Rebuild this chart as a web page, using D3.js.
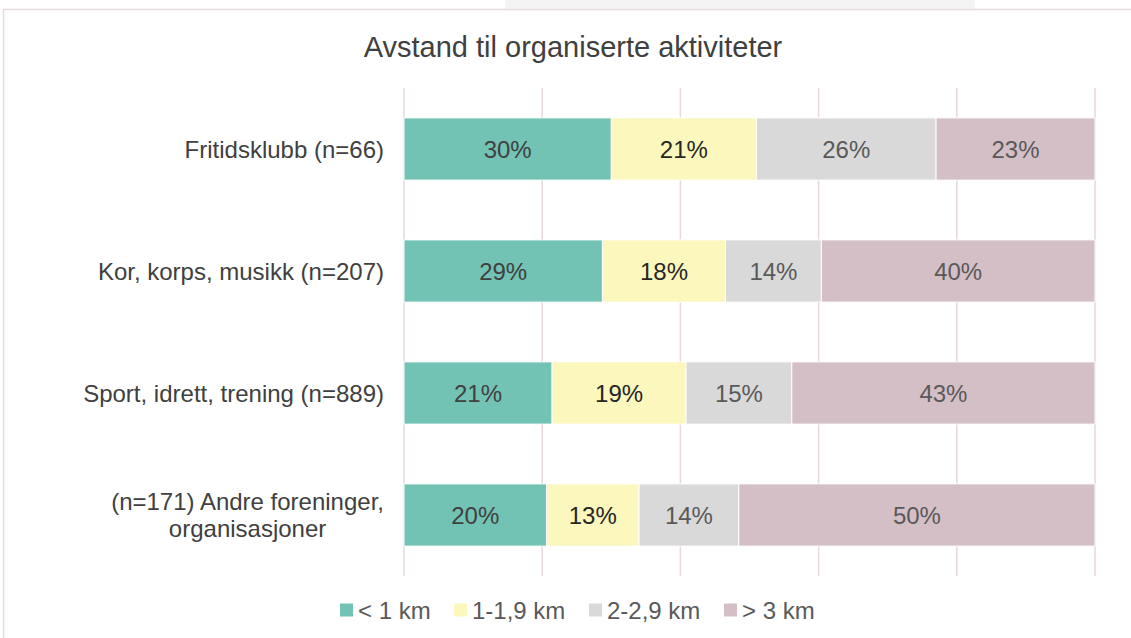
<!DOCTYPE html>
<html>
<head>
<meta charset="utf-8">
<script src="https://cdn.jsdelivr.net/npm/d3@7"></script>
<style>
  body { margin: 0; background: #fff; }
  svg { display: block; font-family: "Liberation Sans", Arial, sans-serif; }
</style>
</head>
<body>
<svg id="chart" width="1131" height="638"></svg>
<script>
// Data
const categories = ["Fritidsklubb (n=66)", "Kor, korps, musikk (n=207)", "Sport, idrett, trening (n=889)", "(n=171) Andre foreninger, organisasjoner"];
const seriesNames = ["< 1 km", "1-1,9 km", "2-2,9 km", "> 3 km"];
const under1 = [30, 29, 21, 20];
const from1to2 = [21, 18, 19, 13];
const from2to3 = [26, 14, 15, 14];
const over3 = [23, 40, 43, 50];
const xTicks = [0, 0.2, 0.4, 0.6, 0.8, 1];

const colors = ["#72c3b3", "#fbf7bd", "#d9d9d9", "#d5bfc7"];
const textColors = ["#404040", "#262626", "#595959", "#595959"];

const rows = categories.map((c, i) => ({
  cat: c, "< 1 km": under1[i], "1-1,9 km": from1to2[i], "2-2,9 km": from2to3[i], "> 3 km": over3[i]
}));

const svg = d3.select("#chart");

// frame
svg.append("rect").attr("x", 505).attr("y", 0).attr("width", 470).attr("height", 9).attr("fill", "#f4f4f4");
svg.append("rect").attr("x", 3.5).attr("y", 9.5).attr("width", 1140).attr("height", 640)
  .attr("fill", "none").attr("stroke", "#e8d9de").attr("stroke-width", 1.5);

const margin = {left: 404, right: 36, top: 88, bottom: 62};
const width = 1131 - margin.left - margin.right;
const height = 638 - margin.top - margin.bottom;

const x = d3.scaleLinear().domain([0, 1]).range([margin.left, margin.left + width]);
const y = d3.scaleBand().domain(categories).range([margin.top, margin.top + height]).paddingInner(0.49).paddingOuter(0.245);

// title
svg.append("text").attr("x", 573).attr("y", 57).attr("text-anchor", "middle")
  .style("font-size", "29px").attr("fill", "#404040").text("Avstand til organiserte aktiviteter");

// gridlines
svg.append("g").selectAll("line").data(xTicks).join("line")
  .attr("x1", d => x(d)).attr("x2", d => x(d))
  .attr("y1", margin.top).attr("y2", margin.top + height)
  .attr("stroke", "#e6d8dd").attr("stroke-width", 1.5);

// stacked bars normalized to 100%
const stack = d3.stack().keys(seriesNames).offset(d3.stackOffsetExpand);
const stacked = stack(rows);

const layers = svg.append("g").selectAll("g").data(stacked).join("g");

layers.selectAll("rect").data((d) => d.map(v => Object.assign(v, {key: d.key, idx: d.index}))).join("rect")
  .attr("x", d => x(d[0]))
  .attr("y", d => y(d.data.cat))
  .attr("width", d => x(d[1]) - x(d[0]))
  .attr("height", y.bandwidth())
  .attr("fill", d => colors[d.idx])
  .attr("stroke", "#fff").attr("stroke-width", 1);

layers.selectAll("text").data(d => d).join("text")
  .attr("x", d => (x(d[0]) + x(d[1])) / 2)
  .attr("y", d => y(d.data.cat) + y.bandwidth() / 2)
  .attr("dy", "0.36em")
  .attr("text-anchor", "middle")
  .style("font-size", "24px")
  .attr("fill", d => textColors[d.idx])
  .text(d => d.data[d.key] + "%");

// category labels (wrapped)
const wrapped = {
  "(n=171) Andre foreninger, organisasjoner": ["(n=171) Andre foreninger,", "organisasjoner"]
};
const catG = svg.append("g");
categories.forEach(c => {
  const lines = wrapped[c] || [c];
  const cy = y(c) + y.bandwidth() / 2;
  const t = catG.append("text").attr("text-anchor", "middle").style("font-size", "24px").attr("fill", "#404040");
  const cx = 384; // right edge of label block
  lines.forEach((l, i) => {
    t.append("tspan").attr("x", 0).attr("y", cy + (i - (lines.length - 1) / 2) * 27).attr("dy", "0.36em").text(l);
  });
  const w = t.node().getBBox().width;
  t.selectAll("tspan").attr("x", cx - w / 2);
});

// legend
const legend = svg.append("g");
const legendX = [340, 454, 589, 724];
seriesNames.forEach((s, i) => {
  const g = legend.append("g").attr("transform", `translate(${legendX[i]},610)`);
  g.append("rect").attr("x", 0).attr("y", -6.5).attr("width", 13).attr("height", 13).attr("fill", colors[i]);
  g.append("text").attr("x", 18).attr("dy", "0.36em").style("font-size", "24px").attr("fill", "#595959").text(s);
});
</script>
</body>
</html>
